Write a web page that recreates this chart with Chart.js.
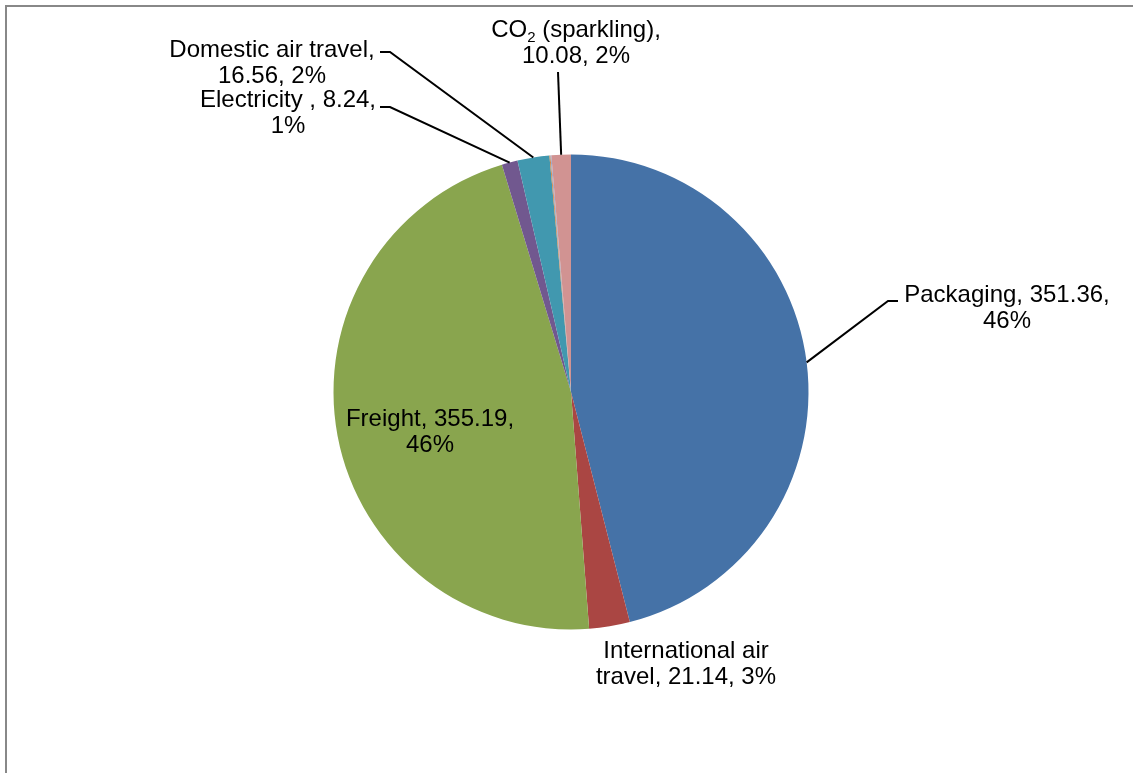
<!DOCTYPE html>
<html>
<head>
<meta charset="utf-8">
<script src="https://cdn.jsdelivr.net/npm/chart.js@4.4.0/dist/chart.umd.min.js"></script>
<style>
  body { margin: 0; background: #fff; overflow: hidden; }
  #frame { position: absolute; left: 5px; top: 5px; width: 1300px; height: 900px; border: 2px solid #888; border-right: none; border-bottom: none; }
  #pieChart { position: absolute; left: 0; top: 0; }
</style>
</head>
<body>
<div id="frame"></div>
<canvas id="pieChart" width="1133" height="773"></canvas>
<script>
// data
var categories = ["Packaging", "International air travel", "Freight", "Electricity ", "Domestic air travel", "", "", "CO2 (sparkling)"];
var values = [351.36, 21.14, 355.19, 8.24, 16.56, 0.5, 0.5, 10.08];
var percents = ["46%", "3%", "46%", "1%", "2%", "", "", "2%"];
var colors = ["#4572A7", "#AA4643", "#89A54E", "#71588F", "#4198AF", "#DB843D", "#93A9CF", "#D19392"];

// label placement, offsets from the pie centre (px)
var labelLayout = [
    { dx: 436, dy: -90, wrap: "val", leader: [[327, -91], [317, -91]] },
    { dx: 115, dy: 266, wrap: "intl" },
    { dx: -141, dy: 34, wrap: "val" },
    { dx: -283, dy: -285, wrap: "val", leader: [[-191, -285], [-181, -285]] },
    { dx: -299, dy: -335, wrap: "cat", leader: [[-191, -340], [-181, -340]] },
    null,
    null,
    { dx: 5, dy: -355, wrap: "cat", leader: [[-13, -320]] }
];

function labelLines(i) {
    var cat = categories[i], v = values[i].toFixed(2), p = percents[i];
    var w = labelLayout[i].wrap;
    if (w === "val") return [cat + ", " + v + ",", p];
    if (w === "cat") return [cat + ",", v + ", " + p];
    return ["International air", "travel, " + v + ", " + p];
}

var FONT = "24px 'Liberation Sans', Arial, sans-serif";
var SUBFONT = "15px 'Liberation Sans', Arial, sans-serif";
var LINE_H = 26;

function drawLine(ctx, text, cx, y) {
    // handles the subscript in CO2
    if (text.indexOf("CO2") === 0) {
        var parts = [["CO", FONT, 0], ["2", SUBFONT, 5], [text.slice(3), FONT, 0]];
        var total = 0;
        parts.forEach(function (p) { ctx.font = p[1]; total += ctx.measureText(p[0]).width; });
        var x = cx - total / 2;
        ctx.textAlign = "left";
        parts.forEach(function (p) {
            ctx.font = p[1];
            ctx.fillText(p[0], x, y + p[2]);
            x += ctx.measureText(p[0]).width;
        });
        ctx.textAlign = "center";
        ctx.font = FONT;
        return;
    }
    ctx.fillText(text, cx, y);
}

var pieLabels = {
    id: "pieLabels",
    afterDatasetsDraw: function (chart) {
        var ctx = chart.ctx;
        var arcs = chart.getDatasetMeta(0).data;
        ctx.save();
        ctx.fillStyle = "#000";
        ctx.textAlign = "center";
        ctx.textBaseline = "alphabetic";
        ctx.font = FONT;
        arcs.forEach(function (arc, i) {
            var lay = labelLayout[i];
            if (!lay) return;
            var p = arc.getProps(["x", "y", "startAngle", "endAngle", "outerRadius"], true);
            var mid = (p.startAngle + p.endAngle) / 2;
            if (lay.leader) {
                ctx.beginPath();
                ctx.strokeStyle = "#000";
                ctx.lineWidth = 2;
                ctx.moveTo(p.x + lay.leader[0][0], p.y + lay.leader[0][1]);
                for (var k = 1; k < lay.leader.length; k++) {
                    ctx.lineTo(p.x + lay.leader[k][0], p.y + lay.leader[k][1]);
                }
                ctx.lineTo(p.x + Math.cos(mid) * p.outerRadius, p.y + Math.sin(mid) * p.outerRadius);
                ctx.stroke();
            }
            labelLines(i).forEach(function (t, j) {
                drawLine(ctx, t, p.x + lay.dx, p.y + lay.dy + j * LINE_H);
            });
        });
        ctx.restore();
    }
};

var ctxP = document.getElementById("pieChart").getContext("2d");
var myPieChart = new Chart(ctxP, {
    type: "pie",
    data: {
        labels: categories,
        datasets: [{
            data: values,
            backgroundColor: colors,
            borderWidth: 0
        }]
    },
    options: {
        responsive: false,
        animation: false,
        layout: {
            padding: { left: 333.5, right: 324.5, top: 154.5, bottom: 143.5 }
        },
        plugins: {
            legend: { display: false },
            tooltip: { enabled: false }
        }
    },
    plugins: [pieLabels]
});
</script>
</body>
</html>
